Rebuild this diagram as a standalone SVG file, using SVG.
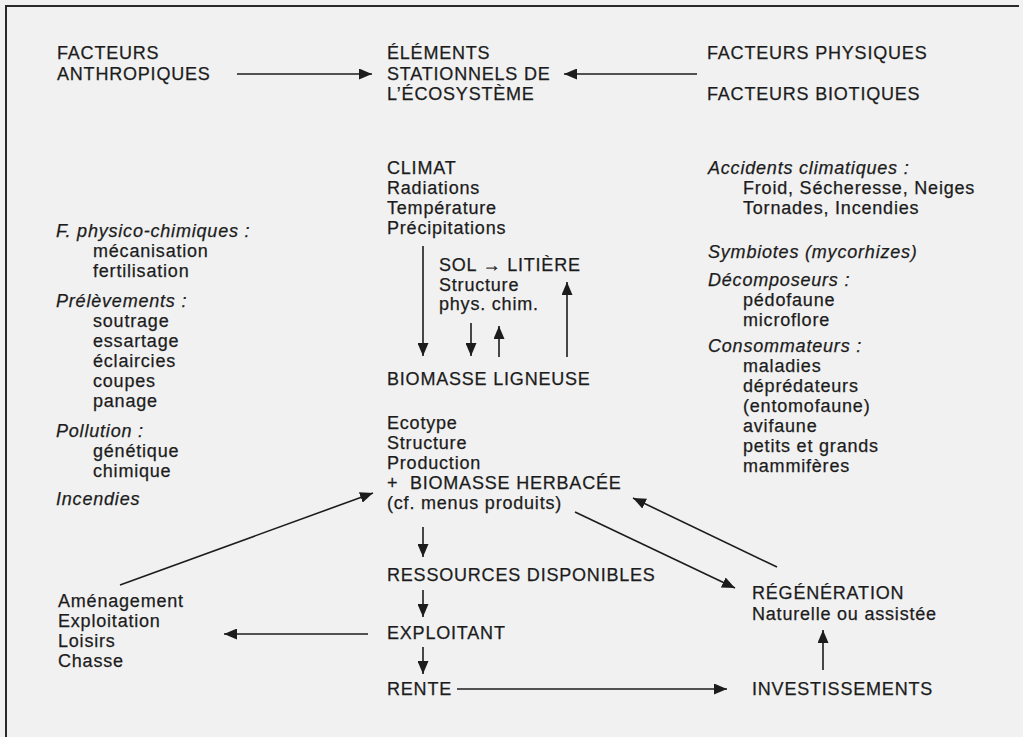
<svg xmlns="http://www.w3.org/2000/svg" width="1023" height="737" viewBox="0 0 1023 737">
<defs>
<style>
text{font-family:"Liberation Sans",Arial,sans-serif;font-size:18px;fill:#1c1c1c;stroke:#1c1c1c;stroke-width:0.25px;letter-spacing:0.8px;white-space:pre}
.i{font-style:italic}
.ln{stroke:#1c1c1c;stroke-width:1.6;fill:none}
</style>
<marker id="ah" markerUnits="userSpaceOnUse" markerWidth="13" markerHeight="11" refX="13" refY="5.5" orient="auto">
<path d="M0,0 L13,5.5 L0,11 z" fill="#1c1c1c"/>
</marker>
</defs>
<rect width="1023" height="737" fill="#f1f1f1"/>
<path d="M6,737 V6 H1019" fill="none" stroke="#2a2a2a" stroke-width="2"/>

<g id="anthropiques"><text x="57" y="59">FACTEURS</text><text x="57" y="80">ANTHROPIQUES</text></g>
<g id="elements"><text x="387" y="59">ÉLÉMENTS</text><text x="387" y="80">STATIONNELS DE</text><text x="387" y="100">L’ÉCOSYSTÈME</text></g>
<g id="physiques"><text x="707" y="59">FACTEURS PHYSIQUES</text></g>
<g id="biotiques"><text x="707" y="100">FACTEURS BIOTIQUES</text></g>

<g id="climat"><text x="387" y="174">CLIMAT</text><text x="387" y="194">Radiations</text><text x="387" y="214">Température</text><text x="387" y="234">Précipitations</text></g>
<g id="sol"><text x="439" y="271">SOL → LITIÈRE</text><text x="439" y="291">Structure</text><text x="439" y="310">phys. chim.</text></g>
<g id="ligneuse"><text x="387" y="385">BIOMASSE LIGNEUSE</text></g>
<g id="herbacee"><text x="387" y="429">Ecotype</text><text x="387" y="449">Structure</text><text x="387" y="469">Production</text><text x="387" y="489" xml:space="preserve">+  BIOMASSE HERBACÉE</text><text x="387" y="509">(cf. menus produits)</text></g>
<g id="ressources"><text x="387" y="581">RESSOURCES DISPONIBLES</text></g>
<g id="exploitant"><text x="387" y="639">EXPLOITANT</text></g>
<g id="rente"><text x="387" y="695">RENTE</text></g>

<g id="facteurs-anthropiques-liste">
<text x="56" y="237" class="i">F. physico-chimiques :</text>
<text x="93" y="257">mécanisation</text>
<text x="93" y="277">fertilisation</text>
<text x="56" y="307" class="i">Prélèvements :</text>
<text x="93" y="327">soutrage</text>
<text x="93" y="347">essartage</text>
<text x="93" y="367">éclaircies</text>
<text x="93" y="387">coupes</text>
<text x="93" y="407">panage</text>
<text x="56" y="437" class="i">Pollution :</text>
<text x="93" y="457">génétique</text>
<text x="93" y="477">chimique</text>
<text x="56" y="505" class="i">Incendies</text>
</g>

<g id="facteurs-biotiques-liste">
<text x="708" y="174" class="i">Accidents climatiques :</text>
<text x="743" y="194">Froid, Sécheresse, Neiges</text>
<text x="743" y="214">Tornades, Incendies</text>
<text x="708" y="258" class="i">Symbiotes (mycorhizes)</text>
<text x="708" y="286" class="i">Décomposeurs :</text>
<text x="743" y="306">pédofaune</text>
<text x="743" y="326">microflore</text>
<text x="708" y="352" class="i">Consommateurs :</text>
<text x="743" y="372">maladies</text>
<text x="743" y="392">déprédateurs</text>
<text x="743" y="412">(entomofaune)</text>
<text x="743" y="432">avifaune</text>
<text x="743" y="452">petits et grands</text>
<text x="743" y="472">mammifères</text>
</g>

<g id="amenagement"><text x="58" y="607">Aménagement</text><text x="58" y="627">Exploitation</text><text x="58" y="647">Loisirs</text><text x="58" y="667">Chasse</text></g>
<g id="regeneration"><text x="752" y="599">RÉGÉNÉRATION</text><text x="752" y="620">Naturelle ou assistée</text></g>
<g id="investissements"><text x="752" y="695">INVESTISSEMENTS</text></g>

<g id="connectors" class="ln">
<line x1="237" y1="74" x2="372" y2="74" marker-end="url(#ah)"/>
<line x1="697" y1="74" x2="564" y2="74" marker-end="url(#ah)"/>
<line x1="423" y1="246" x2="423" y2="356" marker-end="url(#ah)"/>
<line x1="471" y1="323" x2="471" y2="356" marker-end="url(#ah)"/>
<line x1="499" y1="357" x2="499" y2="326" marker-end="url(#ah)"/>
<line x1="567" y1="357" x2="567" y2="282" marker-end="url(#ah)"/>
<line x1="423" y1="527" x2="423" y2="557" marker-end="url(#ah)"/>
<line x1="423" y1="590" x2="423" y2="617" marker-end="url(#ah)"/>
<line x1="423" y1="647" x2="423" y2="674" marker-end="url(#ah)"/>
<line x1="368" y1="634" x2="224" y2="634" marker-end="url(#ah)"/>
<line x1="120" y1="585" x2="373" y2="493" marker-end="url(#ah)"/>
<line x1="575" y1="512" x2="735" y2="588" marker-end="url(#ah)"/>
<line x1="777" y1="567" x2="633" y2="498" marker-end="url(#ah)"/>
<line x1="457" y1="689" x2="727" y2="689" marker-end="url(#ah)"/>
<line x1="823" y1="670" x2="823" y2="630" marker-end="url(#ah)"/>
</g>
</svg>
